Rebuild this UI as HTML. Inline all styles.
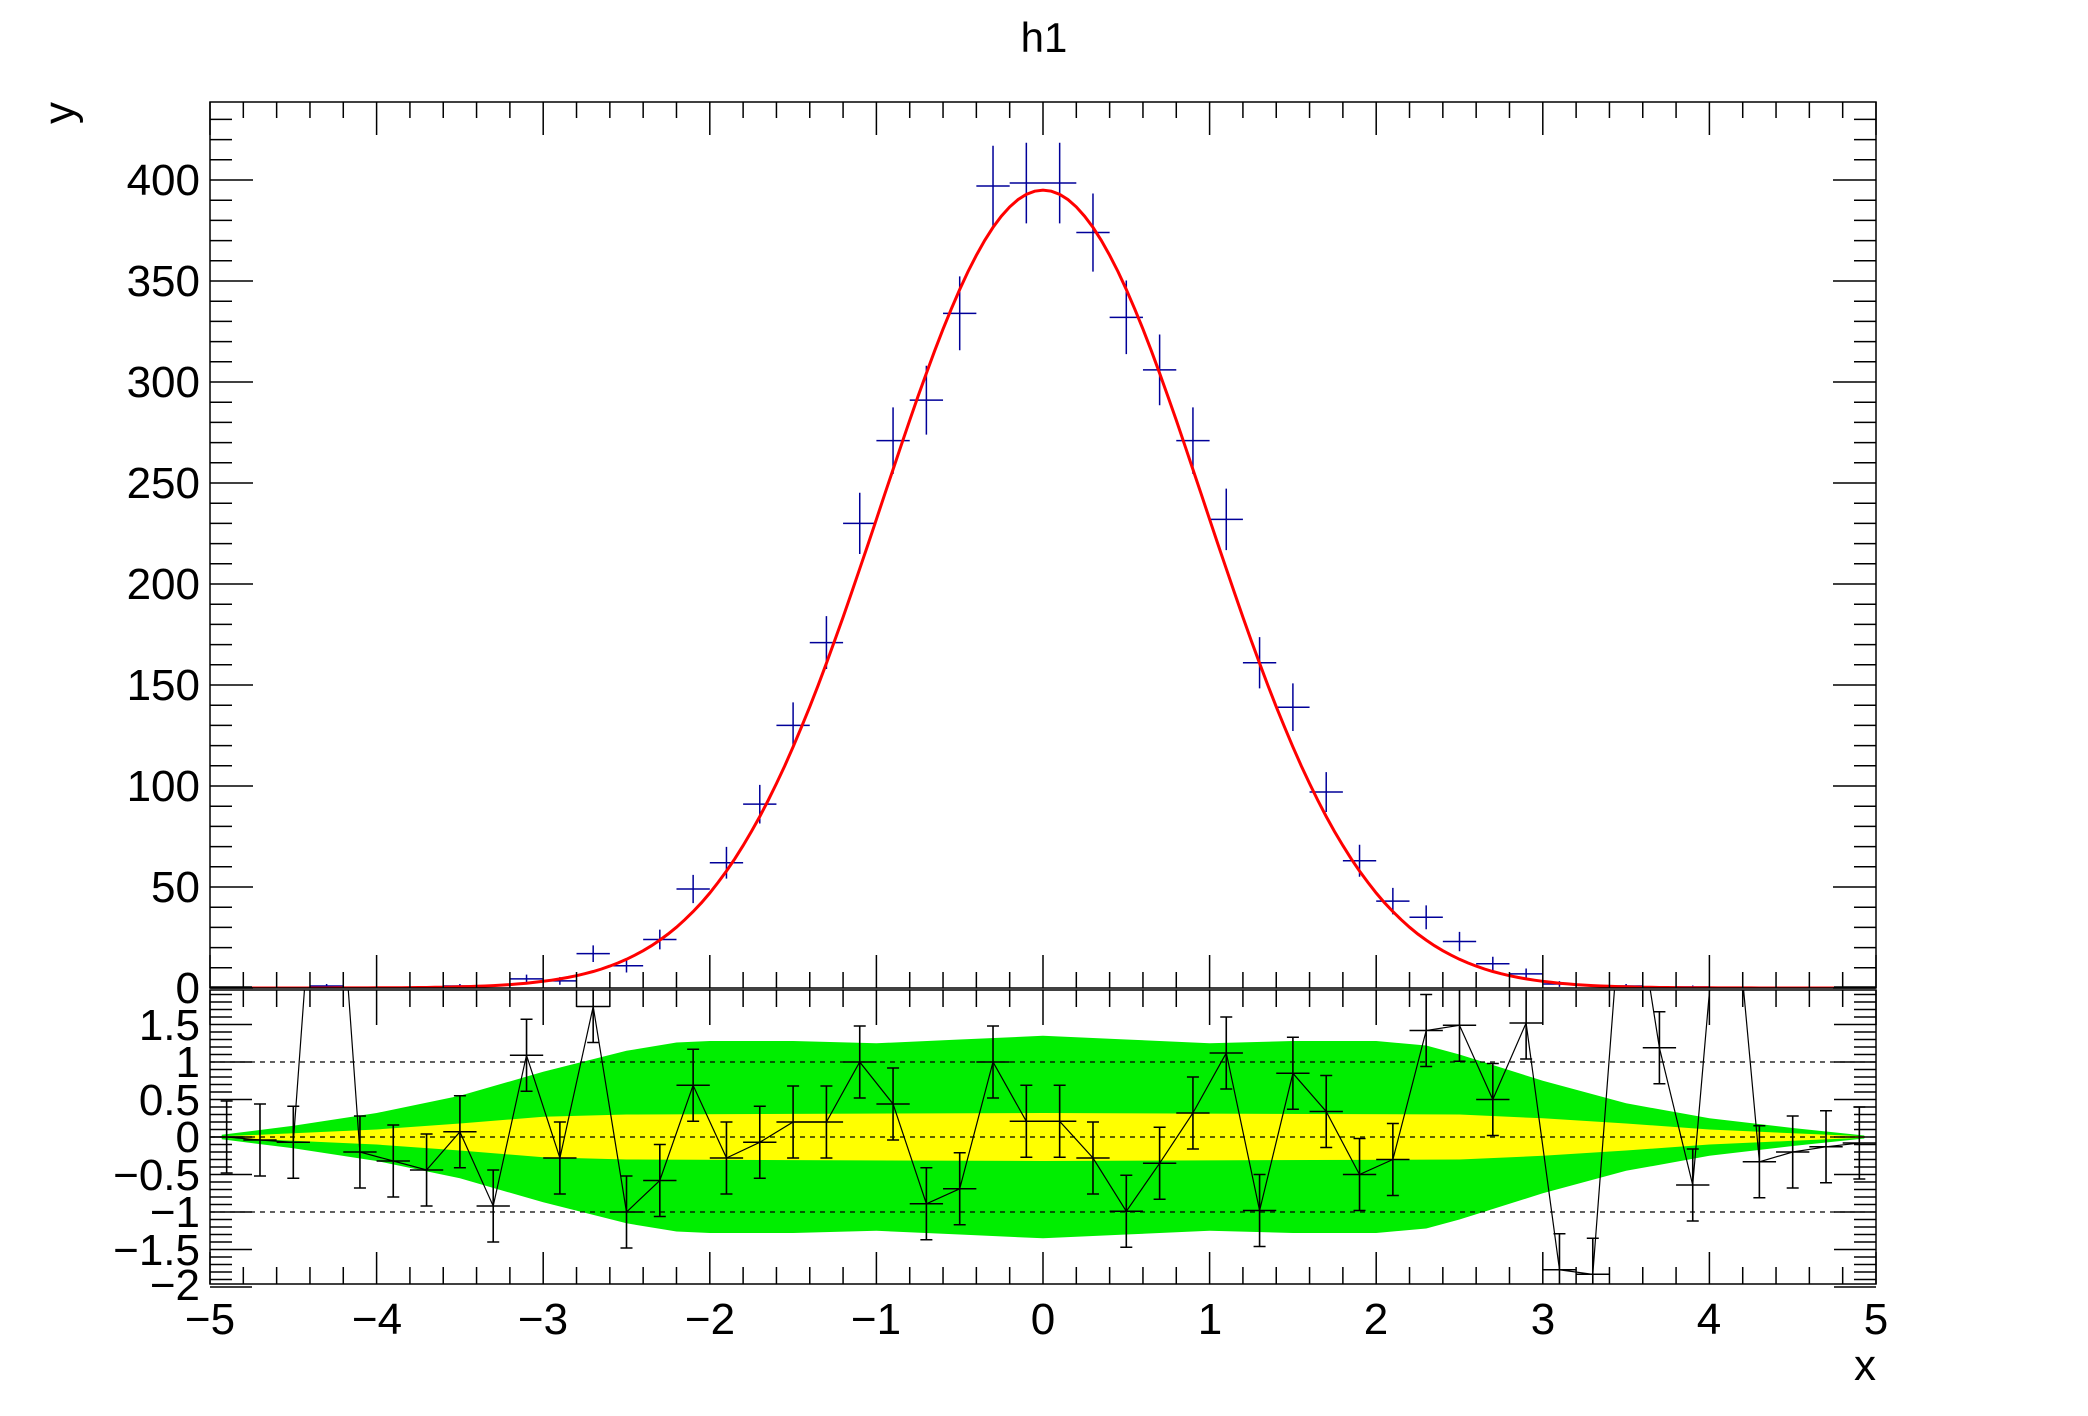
<!DOCTYPE html>
<html><head><meta charset="utf-8"><style>
html,body{margin:0;padding:0;background:#fff;}
svg{display:block;}
text{font-family:"Liberation Sans",Arial,sans-serif;fill:#000;}
</style></head><body>
<svg id="s" xmlns="http://www.w3.org/2000/svg" width="2088" height="1416" viewBox="0 0 2088 1416">
<defs>
<clipPath id="cu"><rect x="210" y="102" width="1666" height="886"/></clipPath>
<clipPath id="cl"><rect x="210" y="990" width="1666" height="294"/></clipPath>
</defs>
<rect x="0" y="0" width="2088" height="1416" fill="#fff"/>
<g id="lower" clip-path="url(#cl)"></g>
<g id="upper" clip-path="url(#cu)"></g>
<g id="ticks"></g>
<rect x="210" y="102" width="1666" height="886" fill="none" stroke="#000" stroke-width="1.5"/>
<rect x="210" y="990" width="1666" height="294" fill="none" stroke="#000" stroke-width="1.5"/>
<text x="1044" y="52" font-size="42" text-anchor="middle">h1</text>
<text transform="translate(74,102) rotate(-90)" font-size="44" text-anchor="end">y</text>
<text x="1876" y="1380" font-size="44" text-anchor="end">x</text>
<g font-size="44" text-anchor="end">
<text x="200" y="1003">0</text>
<text x="200" y="902">50</text>
<text x="200" y="801">100</text>
<text x="200" y="700">150</text>
<text x="200" y="599">200</text>
<text x="200" y="498">250</text>
<text x="200" y="397">300</text>
<text x="200" y="296">350</text>
<text x="200" y="195">400</text>
<text x="200" y="1040">1.5</text>
<text x="200" y="1077">1</text>
<text x="200" y="1115">0.5</text>
<text x="200" y="1152">0</text>
<text x="200" y="1190">−0.5</text>
<text x="200" y="1227">−1</text>
<text x="200" y="1265">−1.5</text>
<text x="200" y="1300">−2</text>
</g>
<g font-size="44" text-anchor="middle">
<text x="210" y="1334">−5</text>
<text x="377" y="1334">−4</text>
<text x="543" y="1334">−3</text>
<text x="710" y="1334">−2</text>
<text x="876" y="1334">−1</text>
<text x="1043" y="1334">0</text>
<text x="1210" y="1334">1</text>
<text x="1376" y="1334">2</text>
<text x="1543" y="1334">3</text>
<text x="1709" y="1334">4</text>
<text x="1876" y="1334">5</text>
</g>
</svg>
<script>
(function(){
var NS="http://www.w3.org/2000/svg";
function X(u){return 1043+166.6*u;}
function YU(v){return 988-2.02*v;}
function YL(r){return 1137-75*r;}
function el(p,tag,a){var e=document.createElementNS(NS,tag);for(var k in a)e.setAttribute(k,a[k]);p.appendChild(e);return e;}
var lo=document.getElementById('lower'),up=document.getElementById('upper'),tk=document.getElementById('ticks');
// bands
function band(pts,col){var top=[],bot=[];pts.forEach(function(p){top.push(X(p[0]).toFixed(1)+','+YL(p[1]).toFixed(1));bot.unshift(X(p[0]).toFixed(1)+','+YL(-p[1]).toFixed(1));});el(lo,'polygon',{points:top.concat(bot).join(' '),fill:col});}
band([[-4.93,0.03],[-4.5,0.15],[-4,0.32],[-3.5,0.55],[-3,0.87],[-2.5,1.15],[-2.2,1.26],[-2,1.28],[-1.5,1.28],[-1,1.25],[-0.5,1.3],[0,1.35],[0.5,1.3],[1,1.25],[1.5,1.28],[2,1.28],[2.3,1.22],[2.5,1.1],[3,0.75],[3.5,0.45],[4,0.25],[4.5,0.12],[4.93,0.02]],'#00ee00');
band([[-4.93,0.01],[-4.5,0.05],[-4,0.1],[-3.5,0.18],[-3,0.27],[-2.5,0.3],[0,0.32],[2.5,0.3],[3,0.25],[3.5,0.18],[4,0.1],[4.5,0.05],[4.93,0.01]],'#ffff00');
[1,0,-1].forEach(function(r){el(lo,'line',{x1:210,x2:1876,y1:YL(r),y2:YL(r),stroke:'#000','stroke-width':1.3,'stroke-dasharray':'5,5'});});
var res=[[-4.9,0],[-4.7,-0.04],[-4.5,-0.07],[-4.3,6],[-4.1,-0.2],[-3.9,-0.32],[-3.7,-0.44],[-3.5,0.07],[-3.3,-0.92],[-3.1,1.09],[-2.9,-0.28],[-2.7,1.74],[-2.5,-1.0],[-2.3,-0.58],[-2.1,0.69],[-1.9,-0.28],[-1.7,-0.07],[-1.5,0.2],[-1.3,0.2],[-1.1,1.0],[-0.9,0.44],[-0.7,-0.89],[-0.5,-0.69],[-0.3,1.0],[-0.1,0.21],[0.1,0.21],[0.3,-0.28],[0.5,-0.99],[0.7,-0.35],[0.9,0.32],[1.1,1.12],[1.3,-0.98],[1.5,0.85],[1.7,0.34],[1.9,-0.5],[2.1,-0.3],[2.3,1.42],[2.5,1.49],[2.7,0.5],[2.9,1.52],[3.1,-1.77],[3.3,-1.83],[3.5,4],[3.7,1.19],[3.9,-0.64],[4.1,4.5],[4.3,-0.33],[4.5,-0.2],[4.7,-0.13],[4.9,-0.08]];
el(lo,'polyline',{points:res.map(function(p){return X(p[0]).toFixed(1)+','+YL(p[1]).toFixed(1);}).join(' '),fill:'none',stroke:'#000','stroke-width':1.2});
var d='';res.forEach(function(p){var x=X(p[0]),y=YL(p[1]),e=0.48*75;
d+='M'+x+','+(y-e)+'V'+(y+e)+'M'+(x-16.66)+','+y+'H'+(x+16.66)+'M'+(x-6)+','+(y-e)+'H'+(x+6)+'M'+(x-6)+','+(y+e)+'H'+(x+6);});
el(lo,'path',{d:d,fill:'none',stroke:'#000','stroke-width':1.6});
// upper data
var dat=[[-4.3,1],[-3.5,1],[-3.1,4.5],[-2.9,3.5],[-2.7,17],[-2.5,11],[-2.3,24],[-2.1,49],[-1.9,62],[-1.7,91],[-1.5,130],[-1.3,171],[-1.1,230],[-0.9,271],[-0.7,291],[-0.5,334],[-0.3,397],[-0.1,398.5],[0.1,398.5],[0.3,374],[0.5,332],[0.7,306],[0.9,271],[1.1,232],[1.3,161],[1.5,139],[1.7,97],[1.9,63],[2.1,43],[2.3,35],[2.5,23],[2.7,12],[2.9,7],[3.1,2],[3.5,1],[3.9,0.5]];
d='';dat.forEach(function(p){var x=X(p[0]),y=YU(p[1]),e=Math.sqrt(p[1])*2.02;d+='M'+x+','+(y-e)+'V'+(y+e)+'M'+(x-16.66)+','+y+'H'+(x+16.66);});
el(up,'path',{d:d,fill:'none',stroke:'#000099','stroke-width':1.5});
var pts=[];for(var u=-4.95;u<=4.951;u+=0.05){var v=395*Math.exp(-u*u/1.88);pts.push(X(u).toFixed(1)+','+YU(v).toFixed(1));}
el(up,'polyline',{points:pts.join(' '),fill:'none',stroke:'#ff0000','stroke-width':3});
// ticks
d='';
for(var v=0;v<=438;v+=10){var y=YU(v),L=(v%50==0)?43:22;d+='M210,'+y+'h'+L+'M1876,'+y+'h'+(-L);}
for(var i=0;i<=50;i++){var x=210+i*33.32,maj=(i%5==0);
d+='M'+x+',988v'+(maj?-33:-16)+'M'+x+',102v'+(maj?33:16)+'M'+x+',1284v'+(maj?-32:-17)+'M'+x+',990v'+(maj?35:17);}
for(var k=-20;k<=20;k++){var y=YL(k/10),L=(k%5==0)?42:22;d+='M210,'+y+'h'+L+'M1876,'+y+'h'+(-L);}
el(tk,'path',{d:d,fill:'none',stroke:'#000','stroke-width':1.5});
})();
</script>
</body></html>
